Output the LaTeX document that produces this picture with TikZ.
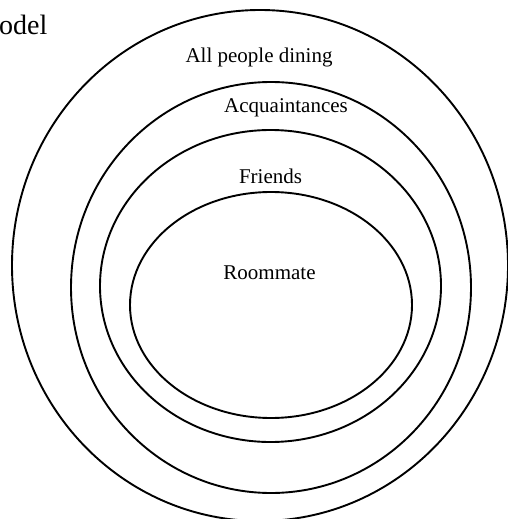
\documentclass[tikz,border=0pt]{standalone}
\usepackage{fontspec}
\setmainfont{Liberation Serif}
\begin{document}
\begin{tikzpicture}[x=1pt,y=-1pt,
  ring/.style={line width=1.9pt},
  lbl/.style={anchor=base, inner sep=0pt, font=\fontsize{21}{24}\selectfont}]
  \useasboundingbox (0,0) rectangle (508,519);
  \clip (0,0) rectangle (508,519);
  % nested circles of dining company
  \draw[ring] (260,265.5) ellipse [x radius=248, y radius=255.5];
  \draw[ring] (271,287.5) ellipse [x radius=200, y radius=205.5];
  \draw[ring] (270.5,286) ellipse [x radius=170.5, y radius=156];
  \draw[ring] (271,305) ellipse [x radius=141, y radius=113];
  % labels
  \node[lbl, anchor=base west, font=\fontsize{28}{32}\selectfont] (title) at (-1,35) {odel};
  \node[lbl] (all) at (259,63) {All people dining};
  \node[lbl] (acq) at (286,112) {Acquaintances};
  \node[lbl] (fr) at (270.5,183) {Friends};
  \node[lbl] (room) at (269.5,279) {Roommate};
\end{tikzpicture}
\end{document}
